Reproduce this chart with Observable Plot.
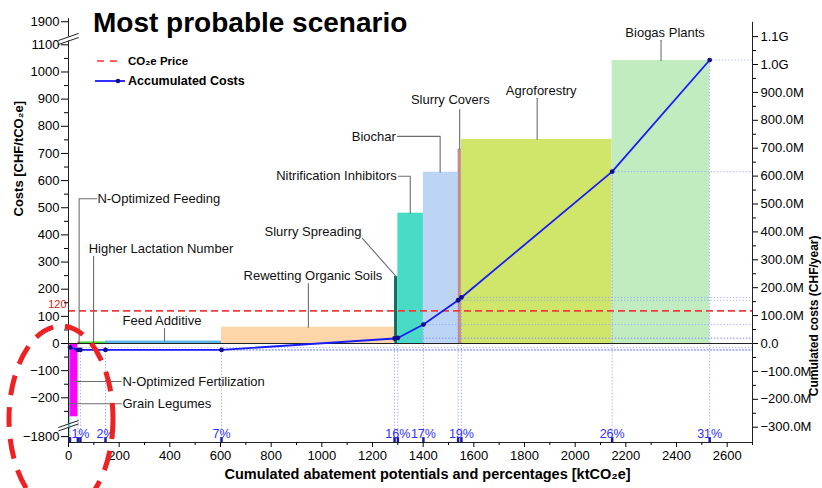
<!DOCTYPE html>
<html><head><meta charset="utf-8">
<script src="https://cdn.jsdelivr.net/npm/d3@7"></script>
<script src="https://cdn.jsdelivr.net/npm/@observablehq/plot@0.6"></script>
<style>
html,body{margin:0;padding:0;background:#fff;}
#wrap{position:relative;width:822px;height:488px;font-family:"Liberation Sans",Arial,sans-serif;}
#wrap > svg{display:block}
.ov{position:absolute;left:0;top:0;pointer-events:none;font-family:"Liberation Sans",Arial,sans-serif}
</style></head><body>
<div id="wrap"></div>
<script>
// ---------- data ----------
const measures = ["Grain Legumes","N-Optimized Fertilization","N-Optimized Feeding","Higher Lactation Number","Feed Additive","Rewetting Organic Soils","Slurry Spreading","Nitrification Inhibitors","Biochar","Slurry Covers","Agroforestry","Biogas Plants"];
const abatementEnd = [6, 37, 47, 146, 604, 1287, 1300, 1401, 1538, 1551, 2146, 2531]; // cumulative ktCO2e
const costPerTon = [-1820, -270, 5, 6, 9, 60, 247, 480, 631, 716, 752, 1042];      // CHF/tCO2e
const barColors = ["#30d8d8","#ff00ff","#b03a2e","#46dd3c","#58b8ee","#fdd5a8","#126d60","#48dcc6","#bdd5f5","#c48c8c","#cfe66a","#c0ecc0"];
const cumCostM = [-14, -23, -23, -23, -23, 18, 20, 68, 155, 165, 616, 1016];        // million CHF/year
const pctLabels = ["", "", "1%", "2%", "7%", "", "16%", "17%", "", "19%", "26%", "31%"];
const co2Price = 120;
const xTicks = d3.range(0, 2601, 200);
const xMinor = d3.range(100, 2701, 200);
const yTicks = [-1800, -200, -100, 0, 100, 200, 300, 400, 500, 600, 700, 800, 900, 1000, 1100, 1900];
const yMinor = [-250, -150, -50, 50, 150, 250, 350, 450, 550, 650, 750, 850, 950, 1050];
const rightTicks = d3.range(-300, 1101, 100);
const rightMinor = d3.range(-250, 1101, 100);

// ---------- annotation layout (label anchor positions in data units) ----------
const labelLayout = [
  {name:"Biogas Plants", x:2355, y:1143, anchor:"middle"},
  {name:"Agroforestry", x:1866, y:932, anchor:"middle"},
  {name:"Slurry Covers", x:1507, y:896, anchor:"middle"},
  {name:"Biochar", x:1292, y:763, anchor:"end"},
  {name:"Nitrification Inhibitors", x:1296, y:619, anchor:"end"},
  {name:"Slurry Spreading", x:965, y:413, anchor:"middle"},
  {name:"Rewetting Organic Soils", x:965, y:251, anchor:"middle"},
  {name:"Feed Additive", x:369, y:85, anchor:"middle"},
  {name:"Higher Lactation Number", x:365, y:350, anchor:"middle"},
  {name:"N-Optimized Feeding", x:114, y:533, anchor:"start"},
  {name:"N-Optimized Fertilization", x:213, y:-140, anchor:"start"},
  {name:"Grain Legumes", x:213, y:-221, anchor:"start"}
];
const leaderLayout = {
  "Biogas Plants": [[2339,1117],[2339,1042]],
  "Agroforestry": [[1850,903],[1850,752]],
  "Slurry Covers": [[1544,862],[1544,716]],
  "Biochar": [[1298,763],[1467,763],[1467,631]],
  "Nitrification Inhibitors": [[1302,616],[1349,616],[1349,480]],
  "Slurry Spreading": [[1160,387],[1293,247]],
  "Rewetting Organic Soils": [[947,221],[947,60]],
  "Feed Additive": [[379,55],[379,9]],
  "Higher Lactation Number": [[99,321],[99,6]],
  "N-Optimized Feeding": [[112,533],[42,533],[42,5]],
  "N-Optimized Fertilization": [[209,-140],[20,-140]],
  "Grain Legumes": [[209,-222],[1,-222]]
};

// ---------- broken axis helpers ----------
const fwd = v => v >= 1500 ? v - 715 : v <= -1000 ? v + 1457 : v;
const inv = t => t > 1140 ? t + 715 : t < -320 ? t - 1457 : t;
const tMin = -364.6, tMax = 1197;
const k = 1.0276; // right-axis (M CHF) to display units
const breakTop = [1114, 1129], breakBot = [-309, -296.5];
const fmt = v => (v < 0 ? "\u2212" : "") + Math.abs(v);
const fmtR = m => m === 0 ? "0.0" : (m < 0 ? "\u2212" : "") + (Math.abs(m) >= 1000 ? (Math.abs(m)/1000).toFixed(1) + "G" : Math.abs(m).toFixed(1) + "M");

const bars = measures.map((m, i) => ({name: m, x1: i ? abatementEnd[i-1] : 0, x2: abatementEnd[i], y: fwd(costPerTon[i]), color: barColors[i]}));
const pts = abatementEnd.map((x, i) => ({x, y: cumCostM[i] * k, pct: pctLabels[i]}));
const leaders = Object.entries(leaderLayout).flatMap(([n, arr]) => arr.map(([x, y]) => ({n, x, y})));
const axisSegs = [[tMin, breakBot[0]], [breakBot[1], breakTop[0]], [breakTop[1], tMax]];
const breakMarks = [...breakTop, ...breakBot].map(c => ({x1: -40, x2: 40, y1: c - 13, y2: c + 13}));

const font = "Liberation Sans, Arial, sans-serif";
const chart = Plot.plot({
  width: 822, height: 488,
  marginLeft: 68, marginRight: 70, marginTop: 18, marginBottom: 46,
  x: {domain: [0, 2700], axis: null},
  y: {domain: [tMin, tMax], axis: null},
  style: {fontFamily: font, fontSize: "13px", color: "#000", background: "#fff", overflow: "visible"},
  marks: [
    Plot.rect(bars, {x1: "x1", x2: "x2", y1: 0, y2: "y", fill: "color"}),
    Plot.ruleX(pts, {x: "x", y1: tMin, y2: "y", stroke: "#7f8cff", strokeWidth: 0.8, strokeDasharray: "1.2,2"}),
    Plot.ruleY(pts, {y: "y", x1: "x", x2: 2700, stroke: "#8f9cff", strokeWidth: 0.8, strokeDasharray: "1.2,2"}),
    Plot.ruleY([0], {stroke: "#222", strokeWidth: 1}),
    Plot.ruleY([co2Price], {stroke: "#f03c3c", strokeWidth: 1.6, strokeDasharray: "7,4"}),
    Plot.text([co2Price], {x: 0, y: d => d, text: d => String(d), dx: -2, dy: -6, textAnchor: "end", fill: "#e02020", fontSize: 11}),
    Plot.line(pts, {x: "x", y: "y", stroke: "#1a1aff", strokeWidth: 1.8}),
    Plot.dot(pts, {x: "x", y: "y", r: 2.4, fill: "#10108c"}),
    Plot.ruleX(pts, {x: "x", y1: tMin, y2: tMin + 18, stroke: "#1a1aa0", strokeWidth: 2.5}),
    Plot.text(pts.filter(d => d.pct), {x: "x", y: tMin, text: "pct", dy: -9, fill: "#2f2fff", fontSize: 12.5}),
    Plot.line(leaders, {x: "x", y: "y", z: "n", stroke: "#6e6e6e", strokeWidth: 1.1}),
    ...["start", "middle", "end"].map(a => Plot.text(labelLayout.filter(d => d.anchor === a), {x: "x", y: "y", text: "name", textAnchor: a, fontSize: 13, fill: "#111"})),
    // axis lines
    Plot.ruleX(axisSegs, {x: 0, y1: d => d[0], y2: d => d[1], stroke: "#222"}),
    Plot.ruleX([2700], {y1: tMin, y2: 1183, stroke: "#222"}),
    Plot.ruleY([tMin], {stroke: "#222"}),
    Plot.link(breakMarks, {x1: "x1", x2: "x2", y1: "y1", y2: "y2", stroke: "#222", strokeWidth: 1}),
    // axes
    Plot.axisY(yTicks.map(fwd), {anchor: "left", tickSize: 7, tickPadding: 2, tickFormat: t => fmt(Math.round(inv(t))), label: null}),
    Plot.axisY(yMinor.map(fwd), {anchor: "left", tickSize: 4, tickFormat: () => "", label: null}),
    Plot.axisY(rightTicks.map(m => m * k), {anchor: "right", tickSize: 5, tickPadding: 3, tickFormat: t => fmtR(Math.round(t / k)), label: null}),
    Plot.axisY(rightMinor.map(m => m * k), {anchor: "right", tickSize: 3, tickFormat: () => "", label: null}),
    Plot.axisX(xTicks, {anchor: "bottom", tickSize: 5, tickPadding: 3, tickFormat: d => String(d), label: null}),
    Plot.axisX(xMinor, {anchor: "bottom", tickSize: 3, tickFormat: () => "", label: null}),
    // axis titles
    Plot.text(["Costs [CHF/tCO\u2082e]"], {frameAnchor: "left", text: d => d, dx: -50, dy: -14, rotate: -90, fontWeight: "bold", fontSize: 13}),
    Plot.text(["Cumulated costs (CHF/year)"], {frameAnchor: "right", text: d => d, dx: 62, dy: 5, rotate: -90, fontWeight: "bold", fontSize: 12}),
    Plot.text(["Cumulated abatement potentials and percentages [ktCO\u2082e]"], {frameAnchor: "bottom", text: d => d, dx: 17, dy: 36, fontWeight: "bold", fontSize: 14.5})
  ]
});
const wrap = document.getElementById("wrap");
wrap.appendChild(chart);

// title, legend and highlight ellipse overlay
const ov = `<svg class="ov" width="822" height="488" xmlns="http://www.w3.org/2000/svg">
  <text x="93" y="32" font-size="28" font-weight="bold" fill="#000">Most probable scenario</text>
  <line x1="97" x2="121" y1="61" y2="61" stroke="#ff3030" stroke-width="1.5" stroke-dasharray="7,6"/>
  <text x="128" y="65" font-size="11.5" font-weight="bold" fill="#000">CO\u2082e Price</text>
  <line x1="95" x2="125" y1="81" y2="81" stroke="#1a1aff" stroke-width="1.8"/>
  <circle cx="118" cy="81" r="2.3" fill="#10108c"/>
  <text x="128" y="85" font-size="12.5" font-weight="bold" fill="#000">Accumulated Costs</text>
  <ellipse cx="61" cy="419" rx="52" ry="93" fill="none" stroke="#ee2222" stroke-width="5" stroke-dasharray="20,12"/>
</svg>`;
wrap.insertAdjacentHTML("beforeend", ov);
</script>
</body></html>
